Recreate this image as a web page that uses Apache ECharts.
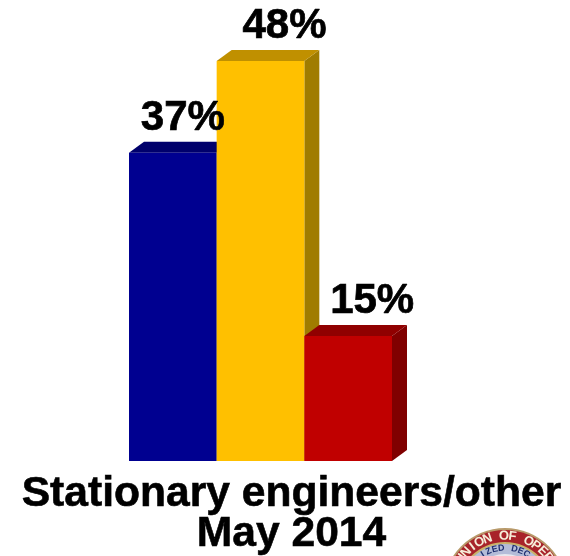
<!DOCTYPE html>
<html>
<head>
<meta charset="utf-8">
<style>html,body{margin:0;padding:0;background:#fff;overflow:hidden}#c{width:570px;height:556px}</style>
<script src="https://cdn.jsdelivr.net/npm/echarts@6/dist/echarts.min.js"></script>
</head>
<body>
<div id="c"></div>
<script>
const categories = ['Blue', 'Gold', 'Red'];
const values = [37, 48, 15];
const frontColors = ['#000090', '#ffc000', '#c00000'];
const topColors = ['#00006c', '#c09000', '#900000'];
const sideColors = ['#000060', '#a07c00', '#800000'];
const titleLines = ['Stationary engineers/other', 'May 2014'];
const sealTop = 'UNION OF OPER';
const sealInner = 'IZED DEC';

const DX = 15, DY = 11;
const LABEL_SHIFT_X = [10, 24, 24];
const chart = echarts.init(document.getElementById('c'), null, {renderer: 'canvas'});

function renderBar(params, api) {
  const i = api.value(0);
  const v = api.value(1);
  const top = api.coord([i, v]);
  const base = api.coord([i, 0]);
  const w = api.size([1, 0])[0];
  const l = top[0] - w / 2, r = top[0] + w / 2;
  return {
    type: 'group',
    children: [
      {type: 'polygon', shape: {points: [[r, top[1]], [r + DX, top[1] - DY], [r + DX, base[1] - DY], [r, base[1]]]}, style: {fill: sideColors[i]}},
      {type: 'polygon', shape: {points: [[l, top[1]], [l + DX, top[1] - DY], [r + DX, top[1] - DY], [r, top[1]]]}, style: {fill: topColors[i]}},
      {type: 'rect', shape: {x: l, y: top[1], width: w, height: base[1] - top[1]}, style: {fill: frontColors[i]}}
    ]
  };
}

function renderLabel(params, api) {
  const i = api.value(0);
  const p = api.coord([i, api.value(1)]);
  return {
    type: 'text',
    style: {
      x: p[0] + LABEL_SHIFT_X[i], y: p[1] - 13.5,
      text: api.value(1) + '%',
      font: 'bold 42px "Liberation Sans", Arial, sans-serif',
      fill: '#000', stroke: '#000', lineWidth: 0.7, align: 'center', verticalAlign: 'bottom'
    }
  };
}

// Seal, clipped by the bottom of the page
const SX = 505, SY = 590;
function arcText(text, radius, startDeg, stepDeg, fill, size) {
  return text.split('').map((ch, k) => {
    const deg = startDeg + k * stepDeg;
    const a = deg * Math.PI / 180;
    return {
      type: 'text', x: SX + radius * Math.sin(a), y: SY - radius * Math.cos(a), rotation: -a,
      style: {text: ch, font: 'bold ' + size + 'px "Liberation Sans", Arial, sans-serif', fill: fill, align: 'center', verticalAlign: 'middle'},
      z: 5
    };
  });
}
const circ = (r, fill, z) => ({type: 'circle', shape: {cx: SX, cy: SY, r: r}, style: {fill: fill}, z: z});
const seal = [
  circ(62, '#b89a6a', 1), circ(60, '#a8232a', 2), circ(48, '#c9b26a', 3), circ(46, '#b4bcd8', 3), circ(36, '#e8e8ee', 4)
].concat(arcText(sealTop, 54, -55, 9, '#f6eeda', 13)).concat(arcText(sealInner, 42, -32, 9, '#1f2f70', 9));

chart.setOption({
  animation: false,
  backgroundColor: '#ffffff',
  title: {
    text: titleLines.join('\n'),
    left: 286.5, top: 469, textAlign: 'center',
    textStyle: {fontFamily: '"Liberation Sans", Arial, sans-serif', fontWeight: 'bold', fontSize: 42.6, lineHeight: 40, color: '#000', textBorderColor: '#000', textBorderWidth: 0.6}
  },
  grid: {left: 129, top: 61, width: 263, height: 400},
  xAxis: {type: 'category', data: categories, show: false},
  yAxis: {type: 'value', min: 0, max: 48, show: false},
  graphic: {elements: seal},
  series: [
    {type: 'custom', renderItem: renderBar, data: values.map((v, i) => [i, v]), encode: {x: 0, y: 1}, clip: false, z: 2},
    {type: 'custom', renderItem: renderLabel, data: values.map((v, i) => [i, v]), encode: {x: 0, y: 1}, clip: false, z: 3}
  ]
});
</script>
</body>
</html>
